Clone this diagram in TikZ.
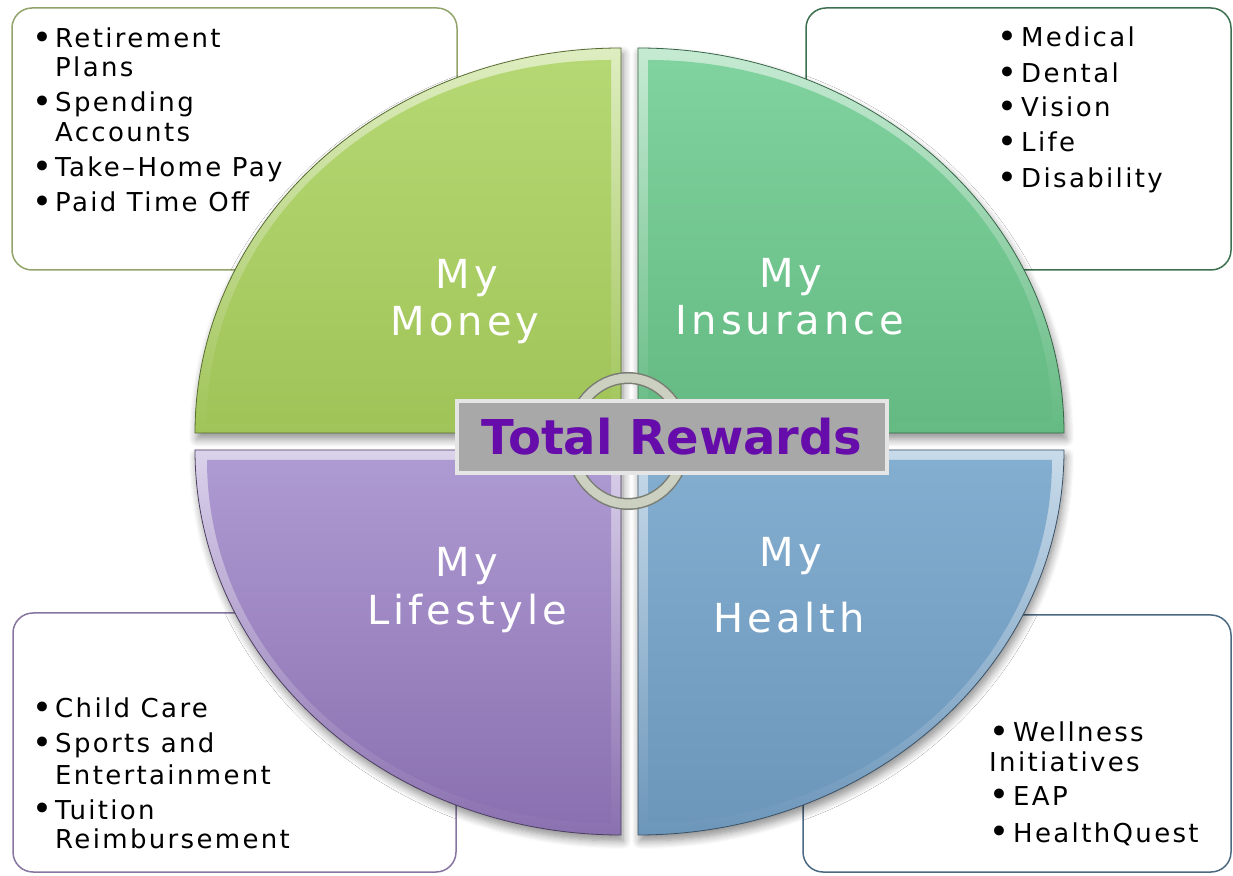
\documentclass[tikz,border=0pt]{standalone}
\usepackage{fontspec}
\usepackage{graphicx}
\setmainfont{DejaVu Sans}
\newfontfamily\listfont[LetterSpace=9]{DejaVu Sans}
\newfontfamily\labelfont[LetterSpace=10]{DejaVu Sans}
\usetikzlibrary{shadows.blur}
\definecolor{moneytop}{RGB}{182,216,116}
\definecolor{moneybot}{RGB}{160,196,88}
\definecolor{instop}{RGB}{128,210,158}
\definecolor{insbot}{RGB}{100,186,130}
\definecolor{lifetop}{RGB}{174,154,210}
\definecolor{lifebot}{RGB}{138,112,176}
\definecolor{healthtop}{RGB}{132,174,208}
\definecolor{healthbot}{RGB}{108,150,186}
\definecolor{titlepurple}{RGB}{102,12,170}
\definecolor{ringgray}{RGB}{204,208,192}
\newcommand{\dotbul}{\raisebox{-1.5pt}{\scalebox{1.3}{\textbullet}}}
\newcommand{\lbul}{\makebox[23pt][l]{\dotbul}}
\newcommand{\lind}{\hspace*{23pt}}
\newcommand{\rbul}{\makebox[24pt][l]{\dotbul}}
\begin{document}
\begin{tikzpicture}[x=1pt,y=1pt,
    listbox/.style={rounded corners=20pt,line width=1.5pt,fill=white},
    listtext/.style={anchor=base west,inner sep=0pt,text=black,font=\listfont\fontsize{26}{30}\selectfont},
    biglabel/.style={anchor=base,inner sep=0pt,text=white,font=\labelfont\fontsize{40}{44}\selectfont},
    qshadow/.style={blur shadow={shadow xshift=2pt,shadow yshift=-6pt,shadow blur radius=8pt,shadow blur steps=8,shadow opacity=45}}]
  \useasboundingbox (0,0) rectangle (1233,875);
  % cajas de texto
  \draw[listbox,draw=moneybot!55!gray] (12,605) rectangle (457,867);
  \draw[listbox,draw=insbot!60!black] (806,605) rectangle (1231,867);
  \draw[listbox,draw=lifebot!70!gray] (13,3) rectangle (456,262);
  \draw[listbox,draw=healthbot!70!black] (803,3) rectangle (1231,260);
  % cuadrantes
  \shade[qshadow,top color=moneytop!45!white,bottom color=moneybot,draw=moneybot!55!black,line width=0.8pt] (621,442) -- ++(-426,0) arc[start angle=180,end angle=90,x radius=426,y radius=385] -- cycle; % My Money
  \shade[top color=moneytop,bottom color=moneybot] (611,452) -- ++(-404,0) arc[start angle=180,end angle=90,x radius=404,y radius=363] -- cycle;
  \shade[qshadow,top color=instop!45!white,bottom color=insbot,draw=insbot!55!black,line width=0.8pt] (638,442) -- ++(0,385) arc[start angle=90,end angle=0,x radius=426,y radius=385] -- cycle; % My Insurance
  \shade[top color=instop,bottom color=insbot] (648,452) -- ++(0,363) arc[start angle=90,end angle=0,x radius=404,y radius=363] -- cycle;
  \shade[qshadow,top color=lifetop!45!white,bottom color=lifebot,draw=lifebot!55!black,line width=0.8pt] (621,425) -- ++(-426,0) arc[start angle=180,end angle=270,x radius=426,y radius=385] -- cycle; % My Lifestyle
  \shade[top color=lifetop,bottom color=lifebot] (611,415) -- ++(-404,0) arc[start angle=180,end angle=270,x radius=404,y radius=363] -- cycle;
  \shade[qshadow,top color=healthtop!45!white,bottom color=healthbot,draw=healthbot!55!black,line width=0.8pt] (638,425) -- ++(0,-385) arc[start angle=270,end angle=360,x radius=426,y radius=385] -- cycle; % My Health
  \shade[top color=healthtop,bottom color=healthbot] (648,415) -- ++(0,-363) arc[start angle=270,end angle=360,x radius=404,y radius=363] -- cycle;
  % etiquetas
  \node[biglabel] (moneymy) at (467,586) {My};
  \node[biglabel] (money) at (465,539) {Money};
  \node[biglabel] (insmy) at (791,587) {My};
  \node[biglabel] (ins) at (790,540) {Insurance};
  \node[biglabel] (lifemy) at (467,298) {My};
  \node[biglabel] (life) at (467,250) {Lifestyle};
  \node[biglabel] (healthmy) at (791,308) {My};
  \node[biglabel] (health) at (789,242) {Health};
  % listas
  \foreach \yy/\txt [count=\i] in {48/\lbul Retirement,77/\lind Plans,112/\lbul Spending,142/\lind Accounts,177/\lbul Take–Home Pay,212/\lbul Paid Time Off}
    \node[listtext] (moneyitem\i) at (32,875-\yy) {\txt};
  \foreach \yy/\txt [count=\i] in {47/Medical,83/Dental,117/Vision,152/Life,188/Disability}
    \node[listtext] (insitem\i) at (997,875-\yy) {\rbul\txt};
  \foreach \yy/\txt [count=\i] in {718/\lbul Child Care,753/\lbul Sports and,785/\lind Entertainment,819/\lbul Tuition,848/\lind Reimbursement}
    \node[listtext] (lifeitem\i) at (32,875-\yy) {\txt};
  \foreach \yy/\txt [count=\i] in {742/\rbul Wellness,772/Initiatives,805/\rbul EAP,842/\rbul HealthQuest}
    \node[listtext] (healthitem\i) at (989,875-\yy) {\txt};
  % anillo y titulo
  \draw[line width=12pt,draw=ringgray!60!black] (628,434) ellipse[x radius=57,y radius=63];
  \draw[line width=9pt,draw=ringgray] (628,434) ellipse[x radius=57,y radius=63];
  \node[minimum width=430pt,minimum height=72pt,inner sep=0pt,fill=black!34,
        draw=black!50,line width=0.6pt,double=black!10,double distance=3.5pt,
        text=titlepurple,font=\bfseries\fontsize{48}{48}\selectfont] (title) at (672,438) {Total Rewards};
\end{tikzpicture}
\end{document}
